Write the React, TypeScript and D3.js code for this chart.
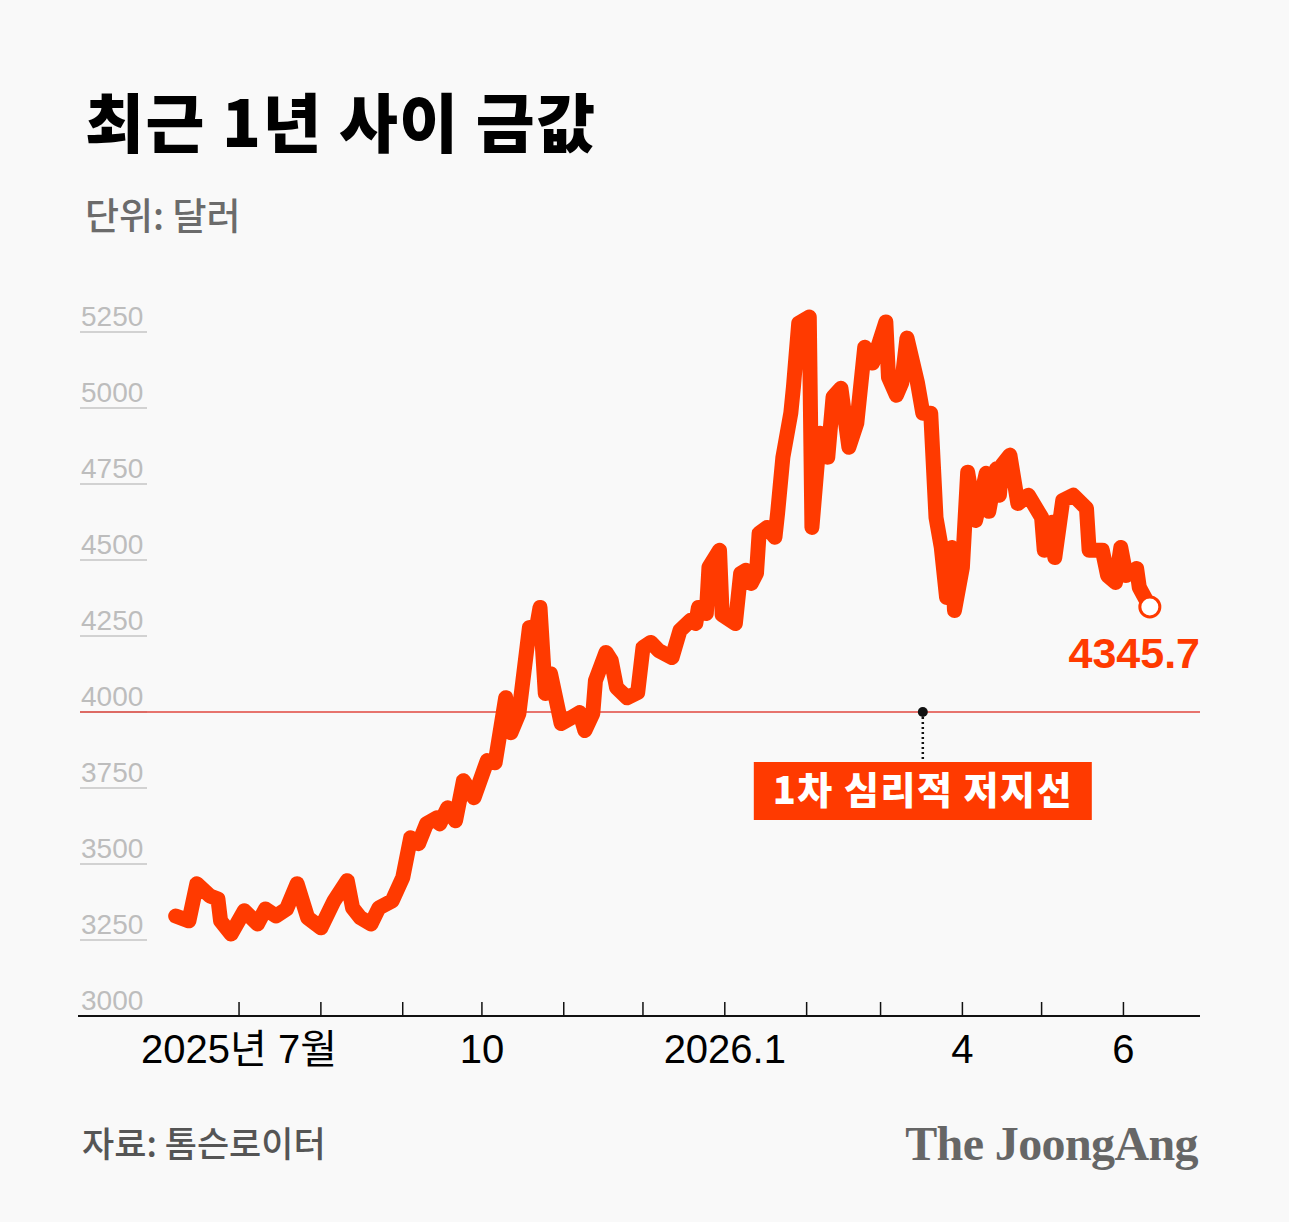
import React from 'react';
import * as d3 from 'd3';

// Gold price over the last year (USD / oz)
const goldSeries: [string, number][] = [
  ['2025-06-07', 3329], ['2025-06-12', 3313], ['2025-06-15', 3435], ['2025-06-20', 3395],
  ['2025-06-23', 3385], ['2025-06-24', 3313], ['2025-06-28', 3270], ['2025-07-03', 3346],
  ['2025-07-08', 3303], ['2025-07-11', 3352], ['2025-07-15', 3329], ['2025-07-19', 3352],
  ['2025-07-23', 3435], ['2025-07-27', 3323], ['2025-08-01', 3290], ['2025-08-06', 3379],
  ['2025-08-11', 3445], ['2025-08-13', 3356], ['2025-08-16', 3323], ['2025-08-20', 3303],
  ['2025-08-23', 3356], ['2025-08-28', 3379], ['2025-09-01', 3455], ['2025-09-04', 3586],
  ['2025-09-07', 3567], ['2025-09-10', 3632], ['2025-09-14', 3652], ['2025-09-15', 3632],
  ['2025-09-18', 3685], ['2025-09-21', 3642], ['2025-09-24', 3774], ['2025-09-28', 3718],
  ['2025-10-03', 3840], ['2025-10-06', 3833], ['2025-10-10', 4047], ['2025-10-12', 3932],
  ['2025-10-15', 3995], ['2025-10-19', 4278], ['2025-10-21', 4245], ['2025-10-23', 4344],
  ['2025-10-25', 4061], ['2025-10-27', 4126], ['2025-10-31', 3962], ['2025-11-04', 3982],
  ['2025-11-07', 3998], ['2025-11-09', 3939], ['2025-11-12', 3995], ['2025-11-13', 4103],
  ['2025-11-17', 4196], ['2025-11-19', 4169], ['2025-11-21', 4080], ['2025-11-25', 4047],
  ['2025-11-29', 4064], ['2025-12-01', 4212], ['2025-12-04', 4229], ['2025-12-07', 4202],
  ['2025-12-12', 4179], ['2025-12-15', 4268], ['2025-12-19', 4301], ['2025-12-21', 4291],
  ['2025-12-22', 4344], ['2025-12-25', 4324], ['2025-12-26', 4476], ['2025-12-30', 4532],
  ['2025-12-31', 4320], ['2026-01-05', 4291], ['2026-01-07', 4456], ['2026-01-09', 4466],
  ['2026-01-11', 4423], ['2026-01-13', 4456], ['2026-01-14', 4588], ['2026-01-17', 4607],
  ['2026-01-20', 4575], ['2026-01-21', 4654], ['2026-01-23', 4838], ['2026-01-26', 4983],
  ['2026-01-27', 5069], ['2026-01-29', 5279], ['2026-02-02', 5299], ['2026-02-03', 4607],
  ['2026-02-06', 4917], ['2026-02-09', 4838], ['2026-02-11', 5036], ['2026-02-14', 5065],
  ['2026-02-17', 4871], ['2026-02-20', 4950], ['2026-02-23', 5200], ['2026-02-26', 5148],
  ['2026-03-03', 5283], ['2026-03-04', 5101], ['2026-03-07', 5042], ['2026-03-09', 5082],
  ['2026-03-11', 5230], ['2026-03-15', 5082], ['2026-03-17', 4983], ['2026-03-20', 4983],
  ['2026-03-22', 4640], ['2026-03-24', 4541], ['2026-03-26', 4377], ['2026-03-28', 4541],
  ['2026-03-29', 4334], ['2026-04-01', 4476], ['2026-04-03', 4789], ['2026-04-06', 4630],
  ['2026-04-10', 4785], ['2026-04-11', 4660], ['2026-04-14', 4800], ['2026-04-15', 4713],
  ['2026-04-16', 4812], ['2026-04-19', 4845], ['2026-04-22', 4686], ['2026-04-26', 4713],
  ['2026-05-01', 4640], ['2026-05-02', 4532], ['2026-05-05', 4624], ['2026-05-06', 4508],
  ['2026-05-09', 4696], ['2026-05-13', 4713], ['2026-05-18', 4670], ['2026-05-19', 4532],
  ['2026-05-24', 4532], ['2026-05-26', 4449], ['2026-05-29', 4426], ['2026-05-31', 4541],
  ['2026-06-02', 4449], ['2026-06-06', 4472], ['2026-06-07', 4410], ['2026-06-11', 4345.7],
];

const yTicks = [3000, 3250, 3500, 3750, 4000, 4250, 4500, 4750, 5000, 5250];

// monthly ticks, only some of them labelled
const monthTicks = [
  '2025-07-01', '2025-08-01', '2025-09-01', '2025-10-01', '2025-11-01', '2025-12-01',
  '2026-01-01', '2026-02-01', '2026-03-01', '2026-04-01', '2026-05-01', '2026-06-01',
];
const monthLabels: [string, string][] = [
  ['2025-07-01', '2025년 7월'],
  ['2025-10-01', '10'],
  ['2026-01-01', '2026.1'],
  ['2026-04-01', '4'],
  ['2026-06-01', '6'],
];

const supportLevel = 4000;
const supportLabel = '1차 심리적 저지선';
const supportMarkDate = '2026-03-17';

const WIDTH = 1289;
const HEIGHT = 1222;
const RED = '#ff3a00';
const SANS = '"Liberation Sans", Arial, "Noto Sans CJK KR", sans-serif';
const KR = '"Noto Sans CJK KR", "Noto Sans", sans-serif';

const parse = d3.timeParse('%Y-%m-%d');

const App: React.FC = () => {
  const margin = { top: 332, right: 89, bottom: 206, left: 78 };

  const x = d3.scaleTime()
    .domain([parse('2025-05-01')!, parse('2026-06-30')!])
    .range([margin.left, WIDTH - margin.right]);

  const y = d3.scaleLinear()
    .domain([3000, 5250])
    .range([HEIGHT - margin.bottom, margin.top]);

  const points = goldSeries.map(([d, v]) => ({ date: parse(d)!, value: v }));

  const line = d3.line<{ date: Date; value: number }>()
    .x(d => x(d.date))
    .y(d => y(d.value))
    .curve(d3.curveLinear);

  const last = points[points.length - 1];
  const axisY = y(3000);
  const supportY = y(supportLevel);
  const markX = x(parse(supportMarkDate)!);
  const boxTop = 762;
  const boxW = 338;
  const boxH = 58;

  return (
    <>
      <style>{'body{margin:0;}'}</style>
      <svg width={WIDTH} height={HEIGHT} style={{ display: 'block' }}>
        <rect width={WIDTH} height={HEIGHT} fill="#f9f9f9" />

        {/* title */}
        <text x={85} y={147} fontFamily={KR} fontWeight={900} fontSize={64} fill="#000" letterSpacing={1.5}>
          최근 1년 사이 금값
        </text>
        <text x={85} y={230} fontFamily={KR} fontWeight={500} fontSize={37} fill="#6b6b6b">
          단위: 달러
        </text>

        {/* y labels with underline */}
        {yTicks.map(t => (
          <g key={t}>
            <line x1={80} x2={147} y1={y(t)} y2={y(t)} stroke="#d2d2d2" strokeWidth={2} />
            <text x={81} y={y(t) - 6} fontFamily={SANS} fontSize={28} fill="#bdbdbd">
              {t}
            </text>
          </g>
        ))}

        {/* psychological support line */}
        <line x1={80} x2={WIDTH - margin.right} y1={supportY} y2={supportY} stroke="#e0473f" strokeWidth={1.5} />

        {/* x axis */}
        <line x1={margin.left} x2={WIDTH - margin.right} y1={axisY} y2={axisY} stroke="#111" strokeWidth={2} />
        {monthTicks.map(m => {
          const tx = x(parse(m)!);
          return <line key={m} x1={tx} x2={tx} y1={axisY} y2={axisY - 14} stroke="#111" strokeWidth={1.5} />;
        })}
        {monthLabels.map(([m, label]) => (
          <text key={m} x={x(parse(m)!)} y={1063} textAnchor="middle" fontFamily={SANS} fontSize={40} fill="#000">
            {label}
          </text>
        ))}

        {/* price line */}
        <path
          d={line(points) ?? ''}
          fill="none"
          stroke={RED}
          strokeWidth={15}
          strokeLinejoin="round"
          strokeLinecap="round"
        />
        <circle cx={x(last.date)} cy={y(last.value)} r={10} fill="#fff" stroke={RED} strokeWidth={3} />
        <text x={1200} y={668} textAnchor="end" fontFamily={SANS} fontWeight={700} fontSize={43} fill={RED}>
          {last.value.toFixed(1)}
        </text>

        {/* annotation */}
        <line x1={markX} x2={markX} y1={supportY} y2={boxTop} stroke="#111" strokeWidth={2.5} strokeDasharray="2,3" />
        <circle cx={markX} cy={supportY} r={5} fill="#111" />
        <rect x={markX - boxW / 2} y={boxTop} width={boxW} height={boxH} fill={RED} />
        <text
          x={markX}
          y={boxTop + boxH / 2 + 13}
          textAnchor="middle"
          fontFamily={KR}
          fontWeight={900}
          fontSize={38}
          letterSpacing={1.5}
          fill="#fff"
        >
          {supportLabel}
        </text>

        {/* footer */}
        <text x={82} y={1157} fontFamily={KR} fontWeight={500} fontSize={35} fill="#555">
          자료: 톰슨로이터
        </text>
        <text
          x={1198}
          y={1160}
          textAnchor="end"
          fontFamily='"Liberation Serif", "DejaVu Serif", serif'
          fontWeight={700}
          fontSize={48}
          letterSpacing={-0.6}
          fill="#666"
        >
          The JoongAng
        </text>
      </svg>
    </>
  );
};

export default App;
